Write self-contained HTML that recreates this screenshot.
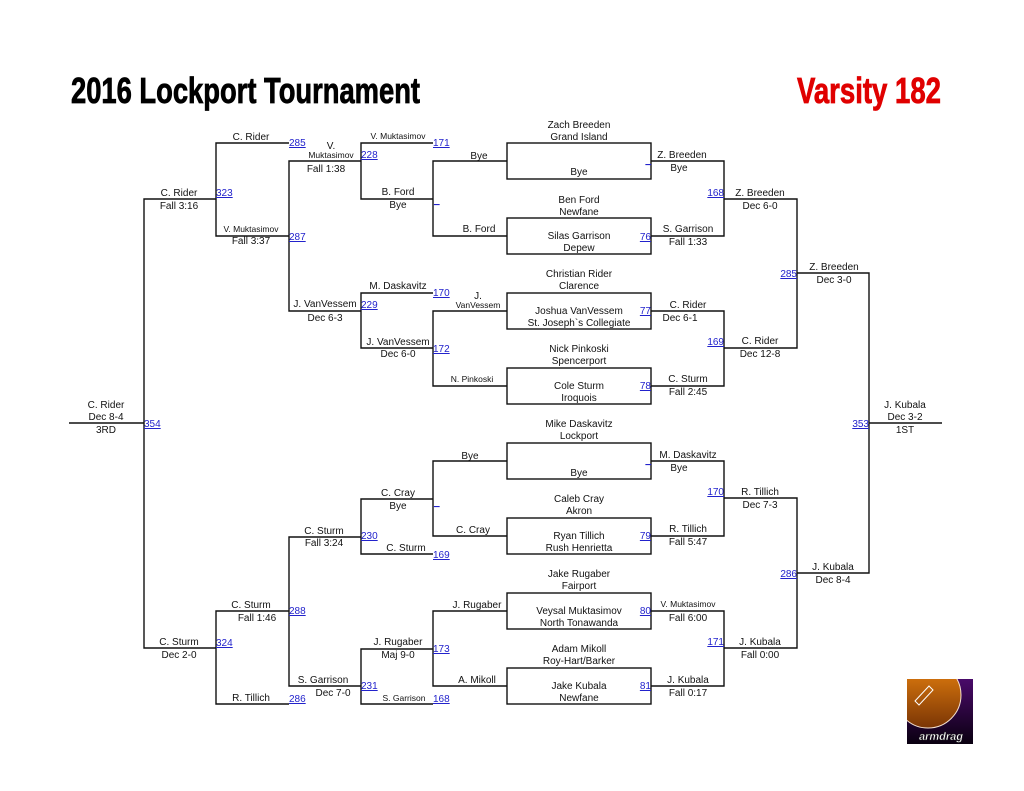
<!DOCTYPE html>
<html><head><meta charset="utf-8">
<style>
html,body{margin:0;padding:0;background:#fff;}
svg{display:block;}
text{font-family:"Liberation Sans",Arial,sans-serif;font-size:10px;fill:#111;text-anchor:middle;}
.s{font-size:8.5px;}
.n{fill:#2222cc;text-decoration:underline;text-anchor:start;}
.r{text-anchor:end;}
.b line,.b rect,.b path{stroke:#111;stroke-width:1.4;fill:none;}
</style></head>
<body>
<svg width="1024" height="791" viewBox="0 0 1024 791" xmlns="http://www.w3.org/2000/svg">
<rect width="1024" height="791" fill="#fff"/>
<text x="71" y="103" textLength="349" lengthAdjust="spacingAndGlyphs" style="font-size:36px;font-weight:bold;text-anchor:start;fill:#000;stroke:#000;stroke-width:0.8">2016 Lockport Tournament</text>
<text x="797" y="103" textLength="144" lengthAdjust="spacingAndGlyphs" style="font-size:36px;font-weight:bold;text-anchor:start;fill:#e00000;stroke:#e00000;stroke-width:0.8">Varsity 182</text>

<g class="b">
<rect x="507" y="143" width="144" height="36"/>
<rect x="507" y="218" width="144" height="36"/>
<rect x="507" y="293" width="144" height="36"/>
<rect x="507" y="368" width="144" height="36"/>
<rect x="507" y="443" width="144" height="36"/>
<rect x="507" y="518" width="144" height="36"/>
<rect x="507" y="593" width="144" height="36"/>
<rect x="507" y="668" width="144" height="36"/>
<path d="M651 161H724V236H651 M651 311H724V386H651 M651 461H724V536H651 M651 611H724V686H651"/>
<path d="M724 199H797V348H724 M724 498H797V648H724"/>
<path d="M797 273H869V573H797"/>
<path d="M869 423H942"/>
<path d="M507 161H433V236H507 M507 311H433V386H507 M507 461H433V536H507 M507 611H433V686H507"/>
<path d="M433 143H361V199H433 M433 293H361V348H433 M433 499H361V554H433 M433 649H361V704H433"/>
<path d="M361 161H289V311H361 M361 537H289V686H361"/>
<path d="M289 143H216V236H289 M289 611H216V704H289"/>
<path d="M216 199H144V648H216"/>
<path d="M144 423H69"/>
</g>

<text x="579" y="128">Zach Breeden</text><text x="579" y="140">Grand Island</text><text x="579" y="175">Bye</text>
<text x="579" y="203">Ben Ford</text><text x="579" y="215">Newfane</text><text x="579" y="239">Silas Garrison</text><text x="579" y="251">Depew</text>
<text x="579" y="277">Christian Rider</text><text x="579" y="289">Clarence</text><text x="579" y="314">Joshua VanVessem</text><text x="579" y="326">St. Joseph`s Collegiate</text>
<text x="579" y="352">Nick Pinkoski</text><text x="579" y="364">Spencerport</text><text x="579" y="389">Cole Sturm</text><text x="579" y="401">Iroquois</text>
<text x="579" y="427">Mike Daskavitz</text><text x="579" y="439">Lockport</text><text x="579" y="476">Bye</text>
<text x="579" y="502">Caleb Cray</text><text x="579" y="514">Akron</text><text x="579" y="539">Ryan Tillich</text><text x="579" y="551">Rush Henrietta</text>
<text x="579" y="577">Jake Rugaber</text><text x="579" y="589">Fairport</text><text x="579" y="614">Veysal Muktasimov</text><text x="579" y="626">North Tonawanda</text>
<text x="579" y="652">Adam Mikoll</text><text x="579" y="664">Roy-Hart/Barker</text><text x="579" y="689">Jake Kubala</text><text x="579" y="701">Newfane</text>

<text x="251" y="140">C. Rider</text><text class="n" x="289" y="146">285</text>
<text x="331" y="149">V.</text><text class="s" x="331" y="158">Muktasimov</text><text x="326" y="172">Fall 1:38</text><text class="n" x="361" y="158">228</text>
<text class="s" x="398" y="139">V. Muktasimov</text><text class="n" x="433" y="146">171</text>
<text x="398" y="195">B. Ford</text><text x="398" y="208">Bye</text><text class="n" x="434" y="203">_</text>
<text x="479" y="159">Bye</text><text x="479" y="232">B. Ford</text>
<text x="179" y="196">C. Rider</text><text x="179" y="209">Fall 3:16</text><text class="n" x="216" y="196">323</text>
<text class="s" x="251" y="232">V. Muktasimov</text><text x="251" y="244">Fall 3:37</text><text class="n" x="289" y="240">287</text>
<text x="398" y="289">M. Daskavitz</text><text class="n" x="433" y="296">170</text>
<text x="478" y="299">J.</text><text class="s" x="478" y="308">VanVessem</text>
<text x="325" y="307">J. VanVessem</text><text x="325" y="321">Dec 6-3</text><text class="n" x="361" y="308">229</text>
<text x="398" y="345">J. VanVessem</text><text x="398" y="357">Dec 6-0</text><text class="n" x="433" y="352">172</text>
<text class="s" x="472" y="382">N. Pinkoski</text>
<text x="106" y="408">C. Rider</text><text x="106" y="420">Dec 8-4</text><text x="106" y="433">3RD</text><text class="n" x="144" y="427">354</text>
<text x="470" y="459">Bye</text>
<text x="398" y="496">C. Cray</text><text x="398" y="509">Bye</text><text class="n" x="434" y="505">_</text>
<text x="473" y="533">C. Cray</text>
<text x="324" y="534">C. Sturm</text><text x="324" y="546">Fall 3:24</text><text class="n" x="361" y="539">230</text>
<text x="406" y="551">C. Sturm</text><text class="n" x="433" y="558">169</text>
<text x="477" y="608">J. Rugaber</text>
<text x="251" y="608">C. Sturm</text><text x="257" y="621">Fall 1:46</text><text class="n" x="289" y="614">288</text>
<text x="179" y="645">C. Sturm</text><text x="179" y="658">Dec 2-0</text><text class="n" x="216" y="646">324</text>
<text x="398" y="645">J. Rugaber</text><text x="398" y="658">Maj 9-0</text><text class="n" x="433" y="652">173</text>
<text x="323" y="683">S. Garrison</text><text x="333" y="696">Dec 7-0</text><text class="n" x="361" y="689">231</text>
<text x="477" y="683">A. Mikoll</text>
<text x="251" y="701">R. Tillich</text><text class="n" x="289" y="702">286</text>
<text class="s" x="404" y="701">S. Garrison</text><text class="n" x="433" y="702">168</text>

<text class="n r" x="651" y="163">_</text><text x="682" y="158">Z. Breeden</text><text x="679" y="171">Bye</text>
<text class="n r" x="724" y="196">168</text><text x="760" y="196">Z. Breeden</text><text x="760" y="209">Dec 6-0</text>
<text class="n r" x="651" y="240">76</text><text x="688" y="232">S. Garrison</text><text x="688" y="245">Fall 1:33</text>
<text class="n r" x="797" y="277">285</text><text x="834" y="270">Z. Breeden</text><text x="834" y="283">Dec 3-0</text>
<text class="n r" x="651" y="314">77</text><text x="688" y="308">C. Rider</text><text x="680" y="321">Dec 6-1</text>
<text class="n r" x="724" y="345">169</text><text x="760" y="344">C. Rider</text><text x="760" y="357">Dec 12-8</text>
<text class="n r" x="651" y="389">78</text><text x="688" y="382">C. Sturm</text><text x="688" y="395">Fall 2:45</text>
<text class="n r" x="869" y="427">353</text><text x="905" y="408">J. Kubala</text><text x="905" y="420">Dec 3-2</text><text x="905" y="433">1ST</text>
<text class="n r" x="651" y="463">_</text><text x="688" y="458">M. Daskavitz</text><text x="679" y="471">Bye</text>
<text class="n r" x="724" y="495">170</text><text x="760" y="495">R. Tillich</text><text x="760" y="508">Dec 7-3</text>
<text class="n r" x="651" y="539">79</text><text x="688" y="532">R. Tillich</text><text x="688" y="545">Fall 5:47</text>
<text class="n r" x="797" y="577">286</text><text x="833" y="570">J. Kubala</text><text x="833" y="583">Dec 8-4</text>
<text class="n r" x="651" y="614">80</text><text class="s" x="688" y="607">V. Muktasimov</text><text x="688" y="621">Fall 6:00</text>
<text class="n r" x="724" y="645">171</text><text x="760" y="645">J. Kubala</text><text x="760" y="658">Fall 0:00</text>
<text class="n r" x="651" y="689">81</text><text x="688" y="683">J. Kubala</text><text x="688" y="696">Fall 0:17</text>

<defs>
<linearGradient id="og" x1="0" y1="0" x2="0" y2="1"><stop offset="0" stop-color="#e8820f"/><stop offset="1" stop-color="#7a3505"/></linearGradient>
<linearGradient id="pg" x1="0" y1="0" x2="0" y2="1"><stop offset="0" stop-color="#4a0a6a"/><stop offset="1" stop-color="#0a0010"/></linearGradient>
<clipPath id="lc"><rect x="907" y="679" width="66" height="65"/></clipPath>
</defs>
<rect x="907" y="679" width="66" height="65" fill="url(#pg)"/>
<g clip-path="url(#lc)">
<circle cx="928" cy="695" r="33" fill="url(#og)" stroke="#f4e0d0" stroke-width="1"/>
</g>
<path d="M915 701 L929 686 L933 690 L919 705 Z" fill="none" stroke="#fff" stroke-width="1"/>
<text x="941" y="740" style="font-size:11px;font-weight:bold;font-style:italic;fill:#fff;stroke:#222;stroke-width:0.4">armdrag</text>
</svg>
</body></html>
